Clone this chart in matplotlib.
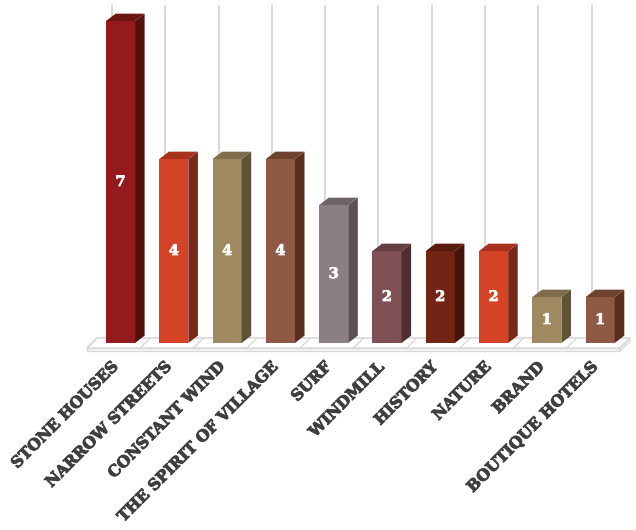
import numpy as np
import matplotlib
matplotlib.use("Agg")
import matplotlib.pyplot as plt
from matplotlib.patches import Polygon
import matplotlib.patheffects as pe

# data
categories = ["STONE HOUSES", "NARROW STREETS", "CONSTANT WIND", "THE SPIRIT OF VILLAGE",
              "SURF", "WINDMILL", "HISTORY", "NATURE", "BRAND", "BOUTIQUE HOTELS"]
values = [7, 4, 4, 4, 3, 2, 2, 2, 1, 1]
front_colors = ["#951A1E", "#D44326", "#9E8961", "#8E5A45", "#8C7F82",
                "#7F5154", "#732515", "#D44326", "#9E8961", "#8E5A45"]
side_colors = ["#54100A", "#7C2818", "#5F5336", "#59301F", "#5C5254",
               "#4E2E30", "#45140A", "#7C2818", "#5F5336", "#59301F"]
top_colors = ["#6E1512", "#A8311D", "#7E6C4A", "#6F4230", "#6E6365",
              "#653E41", "#5A1B0E", "#A8311D", "#7E6C4A", "#6F4230"]

# geometry (category units / value units)
bar_w = 0.545       # front face width
dx, dy = 0.18, 0.16  # depth offset
grid_c = "#D9D9D9"

fig = plt.figure(figsize=(6.36, 5.30), dpi=100)
ax = fig.add_axes([0, 0, 1, 1])
ax.set_xlim(-2.261, 9.672)
ax.set_ylim(-4.065, 7.457)
ax.axis("off")

n = len(categories)
x = np.arange(n)

# floor
f_left, f_right = -0.63, n - 0.63
f_front, f_back = -0.11, 0.11
fdx = 0.19
ax.add_patch(Polygon([(f_left, f_front), (f_right, f_front), (f_right + fdx, f_back),
                      (f_left + fdx, f_back)], closed=True, fc="white", ec=grid_c, lw=1.2, zorder=1))
ax.add_patch(Polygon([(f_left, f_front), (f_right, f_front), (f_right, f_front - 0.07),
                      (f_left, f_front - 0.07)], closed=True, fc="#F4F4F4", ec=grid_c, lw=0.9, zorder=1))
ax.add_patch(Polygon([(f_right, f_front), (f_right + fdx, f_back), (f_right + fdx, f_back - 0.07),
                      (f_right, f_front - 0.07)], closed=True, fc="#F4F4F4", ec=grid_c, lw=0.9, zorder=1))
for k in range(n + 1):
    ax.plot([f_left + k, f_left + k + fdx], [f_front, f_back], color=grid_c, lw=1.0, zorder=1.5)

# back gridlines
for k in range(n):
    gx = -0.16 + k
    ax.plot([gx, gx], [f_back, 7.32], color=grid_c, lw=1.5, zorder=0.5)

# bars
for i in range(n):
    l = x[i] - bar_w / 2
    r = x[i] + bar_w / 2
    v = values[i]
    ax.add_patch(Polygon([(l, 0), (r, 0), (r, v), (l, v)], closed=True,
                         fc=front_colors[i], ec="none", zorder=3))
    ax.add_patch(Polygon([(r, 0), (r + dx, dy), (r + dx, v + dy), (r, v)], closed=True,
                         fc=side_colors[i], ec="none", zorder=3))
    ax.add_patch(Polygon([(l, v), (r, v), (r + dx, v + dy), (l + dx, v + dy)], closed=True,
                         fc=top_colors[i], ec="none", zorder=3))
    ax.text(x[i], v / 2, str(v), color="white", fontsize=10.5, fontweight="bold",
            family="DejaVu Serif", ha="center", va="center", zorder=4,
            path_effects=[pe.withStroke(linewidth=0.5, foreground="white")])

# category labels
for i in range(n):
    ax.text(x[i] - 0.1, -0.47, categories[i], rotation=45, rotation_mode="anchor",
            ha="right", va="center", fontsize=11.2, fontweight="bold",
            family="DejaVu Serif", color="#3F3F3F", zorder=4,
            path_effects=[pe.withStroke(linewidth=0.7, foreground="#3F3F3F")])

fig.savefig("out.png", dpi=100)
